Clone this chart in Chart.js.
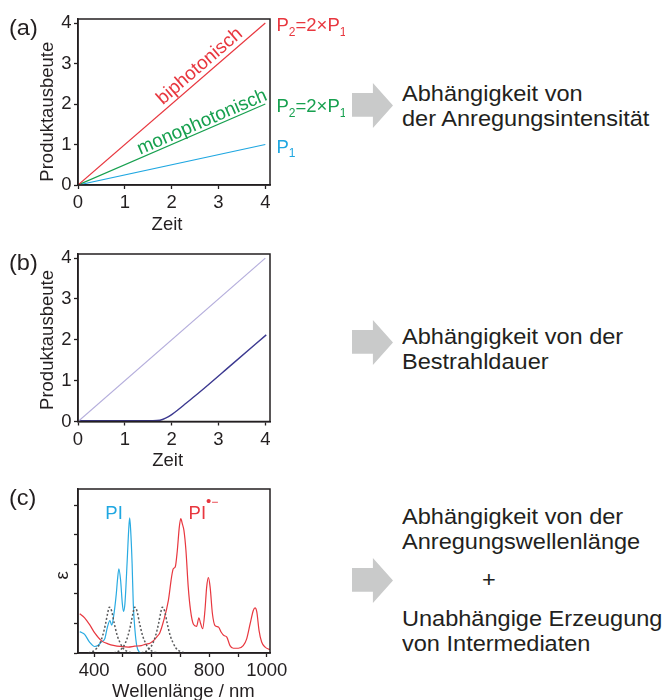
<!DOCTYPE html>
<html>
<head>
<meta charset="utf-8">
<script src="https://cdn.jsdelivr.net/npm/chart.js@4/dist/chart.umd.min.js"></script>
<style>
  html, body { margin: 0; padding: 0; background: #fff; }
  body { width: 667px; height: 700px; position: relative; overflow: hidden;
         font-family: "Liberation Sans", Arial, sans-serif; color: #231f20; }
  .cv { position: absolute; left: 0; }
  .txt { position: absolute; font-size: 22px; line-height: 25px; white-space: nowrap; color: #231f20;
         transform: scaleX(1.07); transform-origin: left top; }
  .arrow { position: absolute; left: 352px; width: 41px; height: 45px; background: #c9caca;
           clip-path: polygon(0% 22%, 51% 22%, 51% 0%, 100% 50%, 51% 100%, 51% 75%, 0% 75%); }
</style>
</head>
<body>
<canvas id="cA" class="cv" width="345" height="240" style="top:0px"></canvas>
<canvas id="cB" class="cv" width="345" height="242" style="top:235px"></canvas>
<canvas id="cC" class="cv" width="345" height="238" style="top:470px"></canvas>

<div class="txt" style="left:8.5px; top:15px;">(a)</div>
<div class="txt" style="left:8.5px; top:250px;">(b)</div>
<div class="txt" style="left:8.5px; top:485px;">(c)</div>

<div class="arrow" style="top:83px"></div>
<div class="arrow" style="top:320px"></div>
<div class="arrow" style="top:558px"></div>

<div class="txt" style="left:401.5px; top:80.5px;">Abhängigkeit von<br>der Anregungsintensität</div>
<div class="txt" style="left:401.5px; top:323.5px;">Abhängigkeit von der<br>Bestrahldauer</div>
<div class="txt" style="left:401.5px; top:503.5px;">Abhängigkeit von der<br>Anregungswellenlänge</div>
<div class="txt" style="left:481.5px; top:567px;">+</div>
<div class="txt" style="left:401.5px; top:605.5px;">Unabhängige Erzeugung<br>von Intermediaten</div>

<script>
// ---------- DATA ----------
// Panel (a)
const timeA = [0, 4];
const biphotonic = [0, 4];
const monophotonic = [0, 2];
const singleP1 = [0, 1];
const timeTicks = [0, 1, 2, 3, 4];
const yieldTicks = [0, 1, 2, 3, 4];

// Panel (b)
const timeBLinear = [0, 4];
const yieldBLinear = [0, 4];
const timeBDelayed = [0, 1.6, 1.75, 1.87, 2.0, 2.15, 2.3, 2.6, 3.3, 4.02];
const yieldBDelayed = [0.02, 0.02, 0.03, 0.08, 0.17, 0.30, 0.44, 0.72, 1.41, 2.12];

// Panel (c)
const wlPI = [350, 355, 367, 384, 402, 413, 425, 437, 446, 455, 461, 469, 477, 481, 486, 492, 498, 502, 507, 515, 520, 523.5, 527, 532, 536, 542, 548, 557, 565];
const epsPI = [0.72, 0.70, 0.63, 0.37, 0.22, 0.25, 0.37, 0.48, 0.87, 1.10, 0.94, 1.33, 2.0, 2.46, 2.85, 2.46, 1.67, 1.41, 1.67, 3.14, 4.15, 4.57, 4.15, 3.02, 1.67, 0.76, 0.25, 0.03, 0.0];

const wlPIanion = [350, 367, 385, 402, 425, 448, 471, 494, 518, 541, 564, 580, 594, 610, 617, 628, 640, 658, 669, 675, 682, 689, 696, 701, 707, 712, 719, 727, 735, 745, 756, 764, 770, 777, 785, 791, 797, 803, 811, 820, 832, 841, 851, 861, 872, 884, 901, 918, 930, 942, 953, 959, 965, 973, 982, 994, 1011];
const epsPIanion = [1.33, 1.19, 0.95, 0.68, 0.42, 0.31, 0.25, 0.22, 0.20, 0.23, 0.25, 0.30, 0.33, 0.45, 0.54, 0.68, 1.04, 1.78, 2.57, 2.85, 2.92, 3.47, 4.27, 4.55, 4.35, 4.15, 3.47, 2.23, 1.44, 0.97, 0.90, 1.19, 1.0, 0.82, 1.44, 2.23, 2.55, 2.23, 1.33, 0.93, 0.88, 0.71, 0.59, 0.54, 0.25, 0.16, 0.16, 0.25, 0.48, 0.99, 1.44, 1.53, 1.40, 0.76, 0.37, 0.20, 0.11];

const wlExc1 = [380, 395, 410, 420, 430, 440, 447, 453, 460, 470, 480, 490, 500, 515, 530];
const wlExc2 = [468, 483, 498, 508, 518, 528, 535, 541, 548, 558, 568, 578, 588, 603, 618];
const wlExc3 = [564, 579, 594, 604, 614, 624, 631, 637, 644, 654, 664, 674, 684, 699, 714];
const excProfile1 = [0.01, 0.05, 0.17, 0.33, 0.6, 1.0, 1.35, 1.55, 1.45, 1.0, 0.6, 0.35, 0.17, 0.05, 0.01];
const excProfile2 = [0.01, 0.05, 0.17, 0.33, 0.6, 1.0, 1.35, 1.55, 1.45, 1.0, 0.6, 0.35, 0.17, 0.05, 0.01];
const excProfile3 = [0.01, 0.05, 0.17, 0.33, 0.6, 1.0, 1.35, 1.55, 1.45, 1.0, 0.6, 0.35, 0.17, 0.05, 0.01];
const wlTicks = [400, 500, 600, 700, 800, 900, 1000];
const wlLabelled = [400, 600, 800, 1000];
const epsTicks = [0, 1, 2, 3, 4, 5];

// ---------- HELPERS ----------
const FONT = '"Liberation Sans", Arial, sans-serif';
const INK = '#231f20';
const RED = '#e8373f', GREEN = '#17a04f', BLUE = '#1fa7e1';
const pts = (xs, ys) => xs.map((x, i) => ({ x, y: ys[i] }));

function drawRich(ctx, x, y, parts, color) {
  ctx.save();
  ctx.fillStyle = color; ctx.textBaseline = 'alphabetic'; ctx.textAlign = 'left';
  for (const [t, size, dy] of parts) {
    ctx.font = size + 'px ' + FONT;
    ctx.fillText(t, x, y + dy);
    x += ctx.measureText(t).width;
  }
  ctx.restore();
}

const framePlugin = {
  id: 'frame',
  afterDraw(chart) {
    const { ctx, chartArea: a } = chart;
    ctx.save();
    ctx.strokeStyle = INK; ctx.lineWidth = 1.5;
    ctx.strokeRect(a.left, a.top, a.right - a.left, a.bottom - a.top);
    ctx.restore();
  }
};

// axis titles placed relative to the plot frame
function titlePlugin(t) {
  return {
    id: 'titles',
    afterDraw(chart) {
      const { ctx, chartArea: a } = chart;
      ctx.save();
      ctx.fillStyle = INK; ctx.font = '18.5px ' + FONT;
      ctx.textBaseline = 'alphabetic'; ctx.textAlign = 'center';
      ctx.fillText(t.x, a.left + t.xdx, a.bottom + t.xdy);
      ctx.translate(a.left + t.ydx, a.top + t.ydy);
      ctx.rotate(-Math.PI / 2);
      ctx.fillText(t.y, 0, 0);
      ctx.restore();
    }
  };
}

function axis(opts) {
  return {
    type: 'linear',
    min: opts.min, max: opts.max,
    afterBuildTicks: s => { s.ticks = opts.ticks.map(v => ({ value: v })); },
    afterFit: s => { if (opts.width !== undefined) s.width = opts.width; if (opts.height !== undefined) s.height = opts.height; },
    border: { display: true, color: INK, width: 1.5 },
    grid: { drawOnChartArea: false, drawTicks: true, tickLength: 4, tickColor: INK, tickWidth: 1.3 },
    ticks: { color: INK, font: { family: FONT, size: 18.5 }, padding: opts.tickPad, callback: opts.cb || (v => String(v)), maxRotation: 0, autoSkip: false },
    title: { display: false }
  };
}

function baseOptions(xAxis, yAxis, padTop) {
  return {
    responsive: false, animation: false, devicePixelRatio: 1,
    layout: { padding: { top: padTop, right: 75, left: 0, bottom: 0 } },
    plugins: { legend: { display: false }, tooltip: { enabled: false } },
    elements: { point: { radius: 0 } },
    scales: { x: xAxis, y: yAxis }
  };
}

// ---------- PANEL (a) ----------
const rightLabels = [
  { v: biphotonic[1], color: RED, parts: [['P', 18.5, 0], ['2', 12, 4.5], ['=2×P', 18.5, 0], ['1', 12, 4.5]] },
  { v: monophotonic[1], color: GREEN, parts: [['P', 18.5, 0], ['2', 12, 4.5], ['=2×P', 18.5, 0], ['1', 12, 4.5]] },
  { v: singleP1[1], color: BLUE, parts: [['P', 18.5, 0], ['1', 12, 4.5]] }
];
const lineLabels = [
  { text: 'biphotonisch', series: biphotonic, at: 2.74, off: 5, color: RED },
  { text: 'monophotonisch', series: monophotonic, at: 2.72, off: 3, color: GREEN }
];
const labelsA = {
  id: 'labelsA',
  afterDatasetsDraw(chart) {
    const { ctx, chartArea: a } = chart;
    const xs = chart.scales.x, ys = chart.scales.y;
    rightLabels.forEach(l => drawRich(ctx, a.right + 6.5, ys.getPixelForValue(l.v) + 8, l.parts, l.color));
    lineLabels.forEach(l => {
      const x0 = xs.getPixelForValue(timeA[0]), y0 = ys.getPixelForValue(l.series[0]);
      const x1 = xs.getPixelForValue(timeA[1]), y1 = ys.getPixelForValue(l.series[1]);
      const ang = Math.atan2(y1 - y0, x1 - x0);
      const slope = (l.series[1] - l.series[0]) / (timeA[1] - timeA[0]);
      const px = xs.getPixelForValue(l.at), py = ys.getPixelForValue(l.series[0] + slope * l.at);
      ctx.save();
      ctx.translate(px, py); ctx.rotate(ang);
      ctx.font = '19px ' + FONT; ctx.fillStyle = l.color;
      ctx.textAlign = 'center'; ctx.textBaseline = 'alphabetic';
      ctx.fillText(l.text, 0, -l.off);
      ctx.restore();
    });
  }
};

new Chart(document.getElementById('cA'), {
  type: 'line',
  data: { datasets: [
    { data: pts(timeA, biphotonic), borderColor: RED, borderWidth: 1.2 },
    { data: pts(timeA, monophotonic), borderColor: GREEN, borderWidth: 1.2 },
    { data: pts(timeA, singleP1), borderColor: BLUE, borderWidth: 1.2 }
  ]},
  options: baseOptions(
    axis({ min: 0, max: 4.1, ticks: timeTicks, height: 55, tickPad: 3 }),
    axis({ min: 0, max: 4.1, ticks: yieldTicks, width: 78, tickPad: 2.5 }),
    19),
  plugins: [framePlugin, labelsA, titlePlugin({ x: 'Zeit', xdx: 89, xdy: 45, y: 'Produktausbeute', ydx: -24.7, ydy: 92.7 })]
});

// ---------- PANEL (b) ----------
new Chart(document.getElementById('cB'), {
  type: 'line',
  data: { datasets: [
    { data: pts(timeBLinear, yieldBLinear), borderColor: '#b5aedc', borderWidth: 1.2 },
    { data: pts(timeBDelayed, yieldBDelayed), borderColor: '#3c3990', borderWidth: 1.4, cubicInterpolationMode: 'monotone' }
  ]},
  options: baseOptions(
    axis({ min: 0, max: 4.1, ticks: timeTicks, height: 55.5, tickPad: 3 }),
    axis({ min: 0, max: 4.1, ticks: yieldTicks, width: 78, tickPad: 2.5 }),
    19),
  plugins: [framePlugin, titlePlugin({ x: 'Zeit', xdx: 89.7, xdy: 44.7, y: 'Produktausbeute', ydx: -24.7, ydy: 86 })]
});

// ---------- PANEL (c) ----------
const specLabels = [
  { x: 438.9, y: 4.55, color: BLUE, parts: [['PI', 18.5, 0]] },
  { x: 728.3, y: 4.55, color: RED, parts: [['PI', 18.5, 0], ['•', 15, -13], ['−', 12, -13]] }
];
const labelsC = {
  id: 'labelsC',
  afterDatasetsDraw(chart) {
    const xs = chart.scales.x, ys = chart.scales.y;
    specLabels.forEach(l => drawRich(chart.ctx, xs.getPixelForValue(l.x), ys.getPixelForValue(l.y), l.parts, l.color));
  }
};
const dotted = { borderColor: '#58595b', borderWidth: 1.5, borderDash: [2, 2], cubicInterpolationMode: 'monotone' };

new Chart(document.getElementById('cC'), {
  type: 'line',
  data: { datasets: [
    { data: pts(wlExc1, excProfile1), ...dotted },
    { data: pts(wlExc2, excProfile2), ...dotted },
    { data: pts(wlExc3, excProfile3), ...dotted },
    { data: pts(wlPIanion, epsPIanion), borderColor: RED, borderWidth: 1.2, cubicInterpolationMode: 'monotone' },
    { data: pts(wlPI, epsPI), borderColor: '#29abe2', borderWidth: 1.2, cubicInterpolationMode: 'monotone' }
  ]},
  options: baseOptions(
    axis({ min: 344, max: 1011, ticks: wlTicks, height: 55, tickPad: 3,
           cb: v => (wlLabelled.includes(v) ? String(v) : '') }),
    axis({ min: 0, max: 5.55, ticks: epsTicks, width: 78, tickPad: 2.5, cb: () => '' }),
    19),
  plugins: [framePlugin, labelsC, titlePlugin({ x: 'Wellenlänge / nm', xdx: 105.4, xdy: 44, y: 'ε', ydx: -10, ydy: 86.5 })]
});
</script>
</body>
</html>
